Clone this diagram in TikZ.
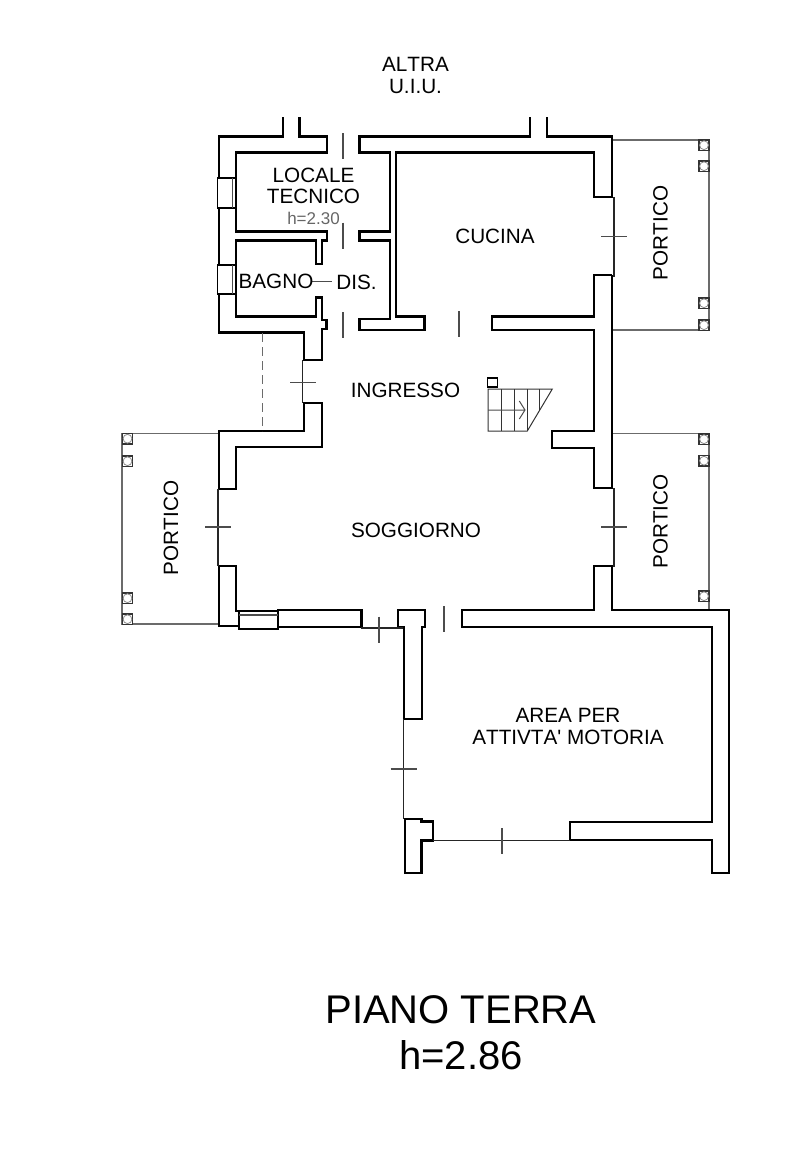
\documentclass[tikz,border=0pt]{standalone}
\usepackage{fontspec}
\newfontfamily\planfont{Liberation Sans}[Kerning=Off]
\definecolor{linegray}{gray}{0.42}
\tikzset{
	wall/.style={line width=2.6pt,black,line join=miter},
	doorline/.style={line width=1.1pt,black!85},
	tick/.style={line width=1.1pt,black!70},
	portico/.style={line width=1.3pt,linegray},
	column/.style={line width=1.8pt,black!80,fill=white},
	hole/.style={line width=.8pt,black!45,fill=white},
	label/.style={font=\planfont\fontsize{20.7}{22}\selectfont,inner sep=0pt},
	title/.style={font=\planfont\fontsize{40}{44}\selectfont,inner sep=0pt}
}
\begin{document}
\begin{tikzpicture}[x=1pt,y=-1pt]
	\useasboundingbox (0,0) rectangle (796,1154);
	% porticos
	\draw[portico] (612,140) -- (709,140) -- (709,330) -- (612,330);
	\draw[portico] (612,433.5) -- (709,433.5) -- (709,610);
	\draw[portico] (219,433.5) -- (122,433.5) -- (122,624) -- (219,624);
	\foreach \y in {140,161,298,320,434,455.5,591} {
		\draw[column] (699,\y) rectangle ++(10,10.5);
		\draw[hole] (704,\y+5.2) circle (4.4);
	}
	\foreach \y in {433.5,456,593,614} {
		\draw[column] (122.5,\y) rectangle ++(10,10.5);
		\draw[hole] (127.5,\y+5.2) circle (4.4);
	}
	% walls
	\draw[wall] (283,117) -- (283,136.5) -- (219,136.5) -- (219,332.5) -- (304,332.5) -- (304,360) -- (322,360) -- (322,329) -- (326.5,329) -- (326.5,320) -- (322,320) -- (322,297.5) -- (316,297.5) -- (316,316.5) -- (236,316.5) -- (236,240.5) -- (316,240.5) -- (316,264) -- (322,264) -- (322,240.5) -- (327,240.5) -- (327,231.5) -- (236,231.5) -- (236,152.5) -- (327,152.5) -- (327,136.5) -- (299.5,136.5) -- (299.5,117);
	\draw[wall] (530,117) -- (530,136.5) -- (359.5,136.5) -- (359.5,152.5) -- (390,152.5) -- (390,231.5) -- (359.5,231.5) -- (359.5,240.5) -- (390,240.5) -- (390,319) -- (359.5,319) -- (359.5,330) -- (424.5,330) -- (424.5,316.5) -- (396,316.5) -- (396,152.5) -- (594,152.5) -- (594,197) -- (612,197) -- (612,136.5) -- (547,136.5) -- (547,117);
	\draw[wall] (612,275) -- (594,275) -- (594,316.5) -- (492,316.5) -- (492,330) -- (594,330) -- (594,431) -- (552,431) -- (552,448) -- (594,448) -- (594,488) -- (612,488) -- (612,275);
	\draw[wall] (304,403) -- (322,403) -- (322,447) -- (236,447) -- (236,489) -- (219,489) -- (219,431) -- (304,431) -- cycle;
	\draw[wall] (219,566) -- (236,566) -- (236,611) -- (239,611) (219,566) -- (219,626) -- (239,626);
	\draw[wall] (278,610) -- (361.5,610) -- (361.5,627) -- (278,627) -- cycle;
	\draw[wall] (398,610) -- (425,610) -- (425,627) -- (422,627) -- (422,719) -- (404,719) -- (404,627) -- (398,627) -- cycle;
	\draw[wall] (594,566) -- (612,566) -- (612,610) -- (729,610) -- (729,873) -- (712,873) -- (712,840) -- (570,840) -- (570,822) -- (712,822) -- (712,627) -- (462,627) -- (462,610) -- (594,610) -- cycle;
	\draw[wall] (405,819) -- (421.5,819) -- (421.5,821.5) -- (433,821.5) -- (433,840.5) -- (421.5,840.5) -- (421.5,873) -- (405,873) -- cycle;
	% windows
	\draw[line width=1.8pt,black,fill=white] (217.5,178) rectangle (236,208);
	\draw[line width=1.8pt,black,fill=white] (217.5,265) rectangle (236,294);
	\draw[line width=1.1pt,black!70] (232.5,178) -- (232.5,208) (232.5,265) -- (232.5,294);
	\draw[line width=1.8pt,black,fill=white] (239,611) rectangle (278,629);
	\draw[line width=1.1pt,black!70] (239,615) -- (278,615);
	% doors
	\draw[doorline] (302.7,360) -- (302.7,403);
	\draw[doorline] (218,489) -- (218,566);
	\draw[doorline] (614,197) -- (614,277);
	\draw[doorline] (614,488) -- (614,567);
	\draw[doorline] (361,628) -- (403,628);
	\draw[doorline] (403.5,719) -- (403.5,819);
	\draw[doorline] (433,840.5) -- (570,840.5);
	\draw[tick] (311.5,281.7) -- (331.5,281.7);
	\foreach \x/\y in {303/382.7,218/527,614/236.7,614/527,403.5/769}
		\draw[tick] (\x-13,\y) -- (\x+13,\y);
	\foreach \x/\y in {343/146,343/235.5,343/325,459/324,444/619,379/629.5,502/841}
		\draw[tick] (\x,\y-13) -- (\x,\y+13);
	\draw[linegray,line width=1.1pt,dash pattern=on 9pt off 5pt] (262.3,333) -- (262.3,431);
	% stairs
	\draw[line width=1.6pt] (487.5,378) rectangle (497.3,386.7);
	\draw[line width=1pt,black!80] (488,389) -- (552.3,389) -- (527.3,431) -- (488,431) -- cycle;
	\draw[line width=1pt,black!80] (501.7,389) -- (501.7,431) (514.3,389) -- (514.3,431) (527,389) -- (527,431) (539.3,389) -- (539.3,410);
	\draw[line width=1pt,black!70] (488,410) -- (525,410) (519.3,401) -- (525,410) -- (519.3,419);
	% labels
	\node[label] (altra) at (415.5,64) {ALTRA};
	\node[label] (uiu) at (415.5,86) {U.I.U.};
	\node[label] (locale) at (313.5,175) {LOCALE};
	\node[label] (tecnico) at (313.5,196) {TECNICO};
	\node[inner sep=0pt,text=black!60,font=\planfont\fontsize{17}{19}\selectfont] (htec) at (313.5,218) {h=2.30};
	\node[label] (cucina) at (495,236) {CUCINA};
	\node[label] (bagno) at (276,281) {BAGNO};
	\node[label] (dis) at (356.5,282) {DIS.};
	\node[label] (ingresso) at (405.5,390) {INGRESSO};
	\node[label] (soggiorno) at (416,530) {SOGGIORNO};
	\node[label] (area) at (568,715) {AREA PER};
	\node[label] (attivita) at (568,737) {ATTIVTA' MOTORIA};
	\node[label,rotate=90] (porticoa) at (660.5,233) {PORTICO};
	\node[label,rotate=90] (porticob) at (660.5,521.5) {PORTICO};
	\node[label,rotate=90] (porticoc) at (171,528) {PORTICO};
	\node[title] (piano) at (461,1010) {PIANO TERRA};
	\node[title] (hpiano) at (461,1055) {h=2.86};
\end{tikzpicture}
\end{document}
